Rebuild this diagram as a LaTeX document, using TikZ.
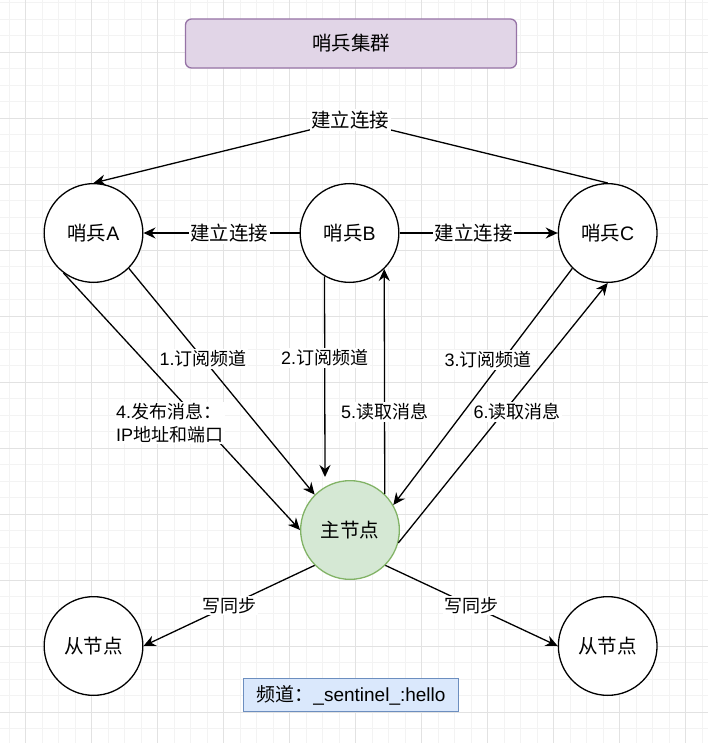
\documentclass[tikz,border=0pt]{standalone}
\usepackage{fontspec}
\setmainfont{Liberation Sans}
\newfontfamily\cjk{Noto Sans CJK SC}
\usetikzlibrary{arrows.meta}
\definecolor{titlefill}{HTML}{E1D5E7}
\definecolor{titledraw}{HTML}{9673A6}
\definecolor{mainfill}{HTML}{D5E8D4}
\definecolor{maindraw}{HTML}{82B366}
\definecolor{chanfill}{HTML}{DAE8FC}
\definecolor{chandraw}{HTML}{6C8EBF}
\definecolor{gridminor}{HTML}{F3F3F3}
\definecolor{gridmajor}{HTML}{E2E2E2}
\newcommand\fbig{\fontsize{19.5}{23}\selectfont}
\newcommand\fsmall{\fontsize{18}{23}\selectfont}
\begin{document}
\begin{tikzpicture}[x=1pt,y=-1pt,
  sent/.style={circle, draw=black, fill=white, line width=1.3pt, minimum size=98.7pt, inner sep=0pt, font=\fbig},
  lbl/.style={fill=white, inner sep=1.5pt, font=\fsmall},
  lblbig/.style={fill=white, inner sep=1.5pt, font=\fbig},
  arr/.style={line width=1.3pt, -{Stealth[length=12pt,width=11pt,inset=4pt]}},
  plain/.style={line width=1.3pt}
]
\useasboundingbox (0,0) rectangle (708,743);
\fill[white] (0,0) rectangle (708,743);
% grid
\foreach \i in {-1,...,41} {\draw[gridminor, line width=0.8pt] ({25.7+16.5*\i},0) -- ({25.7+16.5*\i},743);}
\foreach \i in {-3,...,42} {\draw[gridminor, line width=0.8pt] (0,{52.3+16.5*\i}) -- (708,{52.3+16.5*\i});}
\foreach \i in {0,...,10} {\draw[gridmajor, line width=0.9pt] ({25.7+66*\i},0) -- ({25.7+66*\i},743);}
\foreach \i in {-1,...,10} {\draw[gridmajor, line width=0.9pt] (0,{52.3+66*\i}) -- (708,{52.3+66*\i});}

% title
\node[draw=titledraw, fill=titlefill, line width=1.3pt, rounded corners=6pt,
      minimum width=331pt, minimum height=49pt, font=\fbig] (title) at (351,43.5) {\cjk 哨兵集群};

% sentinels
\node[sent] (A) at (93.5,233) {{\cjk 哨兵}A};
\node[sent] (B) at (349.5,233) {{\cjk 哨兵}B};
\node[sent] (C) at (607.7,233) {{\cjk 哨兵}C};
\node[sent, draw=maindraw, fill=mainfill] (M) at (350,530) {\cjk 主节点};
\node[sent] (L) at (93.5,646) {\cjk 从节点};
\node[sent] (R) at (607.7,646) {\cjk 从节点};

% channel box
\node[draw=chandraw, fill=chanfill, line width=1.3pt, minimum width=215pt, minimum height=33pt,
      font=\fontsize{19}{23}\selectfont] (chan) at (351,695.3) {{\cjk 频道：}\_sentinel\_:hello};

\coordinate (top) at (350,120);
\coordinate (e2end) at (325,477);

% connections between sentinels
\draw[arr] (C.north) -- (top) node[lblbig] {\cjk 建立连接} -- (A.north);
\draw[arr] (B.west) -- (A.east) node[lblbig, pos=0.45] {\cjk 建立连接};
\draw[arr] (B.east) -- (C.west) node[lblbig, pos=0.47] {\cjk 建立连接};

% subscribe / publish / read
\draw[arr] (A.-45) -- (M.135) node[lbl, pos=0.4] {1.{\cjk 订阅频道}};
\draw[arr] (B.240) -- (e2end) node[lbl, pos=0.407] {2.{\cjk 订阅频道}};
\draw[arr] (C.225) -- (M.30) node[lbl, pos=0.387, xshift=-15pt] {3.{\cjk 订阅频道}};
\draw[arr] (A.233) -- (M.west) node[lbl, pos=0.584, xshift=-32pt, align=left] {4.{\cjk 发布消息：}\\IP{\cjk 地址和端口}};
\draw[arr] (M.46) -- (B.-46) node[lbl, pos=0.366] {5.{\cjk 读取消息}};
\draw[arr] (M.-15) -- (C.south) node[lbl, pos=0.505, xshift=13pt] {6.{\cjk 读取消息}};

% replication
\draw[arr] (M.225) -- (L.east) node[lbl, midway] {\cjk 写同步};
\draw[arr] (M.-45) -- (R.west) node[lbl, midway] {\cjk 写同步};
\end{tikzpicture}
\end{document}
